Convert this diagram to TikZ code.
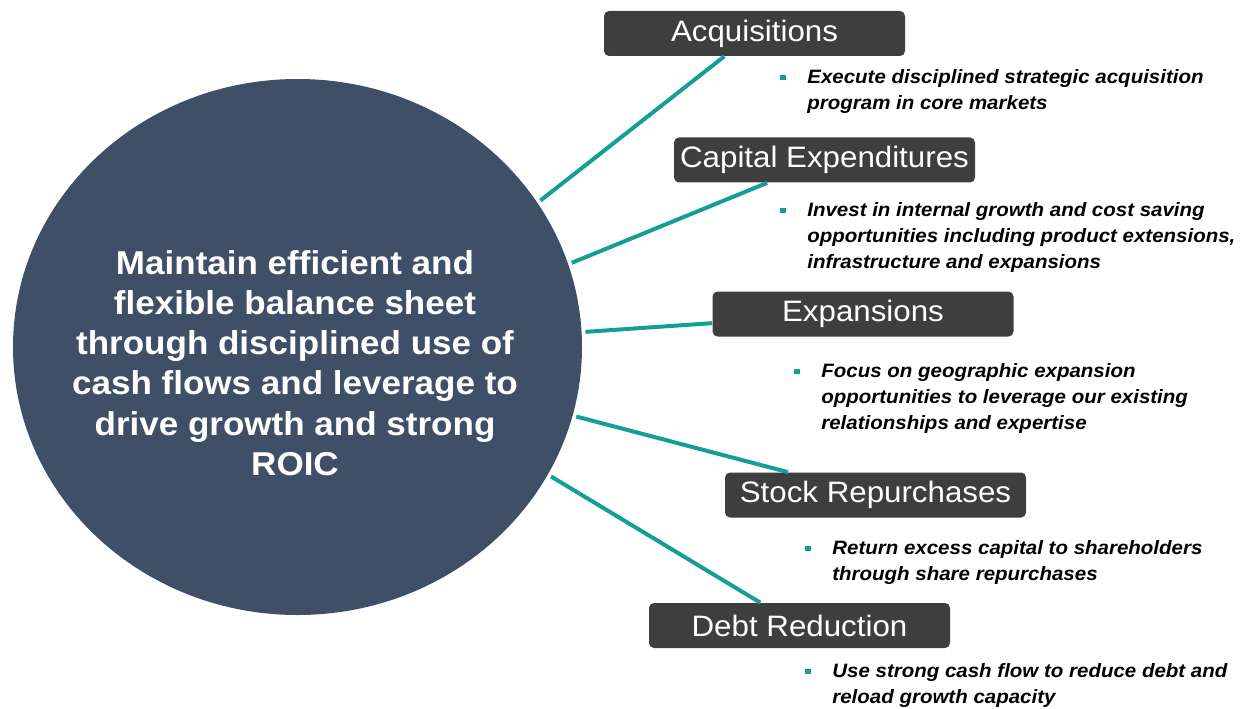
\documentclass[tikz,border=0pt]{standalone}
\usepackage{fontspec}
\setmainfont{Liberation Sans}[FakeStretch=1.06]
\usepackage{tikz}
\usetikzlibrary{positioning,calc,shapes.geometric}
\definecolor{slate}{RGB}{64,79,104}
\definecolor{charcoal}{RGB}{62,62,62}
\definecolor{accent}{RGB}{20,158,150}

\begin{document}
\begin{tikzpicture}[
  core/.style = {
    ellipse,
    fill = slate,
    minimum width = 11.38cm,
    minimum height = 10.72cm,
    inner sep = 0pt,
  },
  heading/.style = {
    rectangle,
    rounded corners = 1mm,
    fill = charcoal,
    text = white,
    minimum width = 6.02cm,
    minimum height = 0.9cm,
    font = \fontsize{16.8}{20}\selectfont,
  },
  blurb/.style = {
    anchor = north west,
    align = left,
    inner sep = 0pt,
    font = \fontsize{11}{14.7}\selectfont\bfseries\itshape,
  },
  sqbullet/.style = {
    fill = accent,
    minimum size = 0.11cm,
    inner sep = 0pt,
  },
  link/.style = {
    draw = accent,
    line width = 0.08cm,
    shorten <= 2pt,
  },
]

  \useasboundingbox (0,0) rectangle (24.86,-14.18);

  % central goal
  \node[core] (goal) at (5.95,-6.94) {};
  \node[align=center,text=white,font=\fontsize{18.8}{22.9}\selectfont\bfseries] (goaltext) at (5.9,-7.26)
    {Maintain efficient and\\flexible balance sheet\\through disciplined use of\\cash flows and leverage to\\drive growth and strong\\ROIC};

  % headings
  \node[heading] (acq) at (15.09,-0.67) {Acquisitions};
  \node[heading] (capex) at (16.49,-3.20) {Capital Expenditures};
  \node[heading] (exp) at (17.26,-6.28) {Expansions};
  \node[heading] (stock) at (17.51,-9.90) {Stock Repurchases};
  \node[heading] (debt) at (15.99,-12.51) {Debt Reduction};

  % bullet points
  \node[blurb] (acqtext) at (16.14,-1.38) {Execute disciplined strategic acquisition\\program in core markets};
  \node[blurb] (capextext) at (16.14,-4.04) {Invest in internal growth and cost saving\\opportunities including product extensions,\\infrastructure and expansions};
  \node[blurb] (exptext) at (16.42,-7.26) {Focus on geographic expansion\\opportunities to leverage our existing\\relationships and expertise};
  \node[blurb] (stocktext) at (16.64,-10.80) {Return excess capital to shareholders\\through share repurchases};
  \node[blurb] (debttext) at (16.64,-13.26) {Use strong cash flow to reduce debt and\\reload growth capacity};

  \node[sqbullet] (acqdot) at ($(acqtext.north west)+(-0.48,-0.17)$) {};
  \node[sqbullet] (capexdot) at ($(capextext.north west)+(-0.48,-0.17)$) {};
  \node[sqbullet] (expdot) at ($(exptext.north west)+(-0.48,-0.17)$) {};
  \node[sqbullet] (stockdot) at ($(stocktext.north west)+(-0.48,-0.17)$) {};
  \node[sqbullet] (debtdot) at ($(debttext.north west)+(-0.48,-0.17)$) {};

  % links from the goal to each heading
  \draw[link] (goal.31) -- ($(acq.south west)!0.40!(acq.south east)$);
  \draw[link] (goal.17) -- ($(capex.south west)!0.31!(capex.south east)$);
  \draw[link] (goal.3) -- ($(exp.north west)!0.70!(exp.south west)$);
  \draw[link] (goal.-14) -- ($(stock.north west)!0.21!(stock.north east)$);
  \draw[link] (goal.-27) -- ($(debt.north west)!0.37!(debt.north east)$);

\end{tikzpicture}
\end{document}
